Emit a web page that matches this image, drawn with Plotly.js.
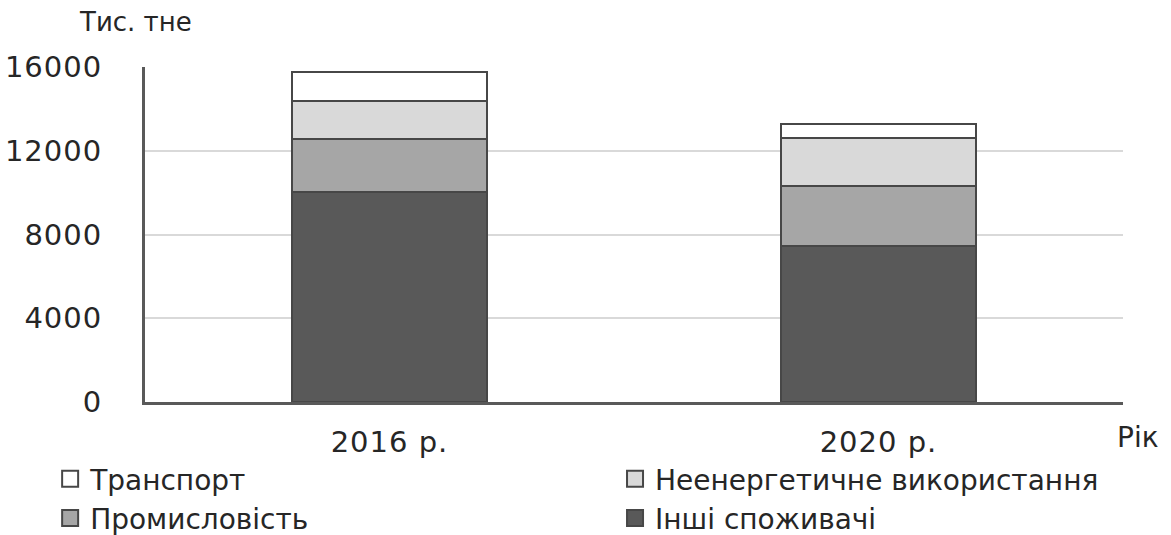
<!DOCTYPE html>
<html>
<head>
<meta charset="utf-8">
<script src="https://cdn.plot.ly/plotly-3.0.1.min.js"></script>
<style>
html,body{margin:0;padding:0;background:#fff;}
#chart{width:1171px;height:535px;}
#chart .xtick text, #chart .ytick text {letter-spacing: 1px;}
</style>
</head>
<body>
<div id="chart"></div>
<script>
const years = ['2016 р.', '2020 р.'];
const inshi = [10040, 7450];
const promyslovist = [2510, 2850];
const neenerg = [1840, 2290];
const transport = [1360, 680];
const seriesNames = ['Інші споживачі', 'Промисловість', 'Неенергетичне використання', 'Транспорт'];
const seriesColors = ['#595959', '#a6a6a6', '#d9d9d9', '#ffffff'];
const seriesLegend = ['legend2', 'legend', 'legend2', 'legend'];
const seriesValues = [inshi, promyslovist, neenerg, transport];

const FONT = 'DejaVu Sans, sans-serif';
const TXT = '#262626';
const OUTLINE = '#474747';

// stacked bars (drawn from the data arrays)
const traces = seriesValues.map((v, i) => ({
  type: 'bar',
  x: years,
  y: v,
  name: seriesNames[i],
  showlegend: false,
  marker: {color: seriesColors[i], line: {color: OUTLINE, width: 2}},
  hoverinfo: 'skip'
}));

// legend-only entries (larger square swatches), top series first
[3, 2, 1, 0].forEach(i => {
  traces.push({
    type: 'scatter', mode: 'markers',
    x: [years[0]], y: [null],
    name: seriesNames[i],
    legend: seriesLegend[i],
    showlegend: true,
    marker: {symbol: 'square', size: 18, color: seriesColors[i], line: {color: OUTLINE, width: 2}},
    hoverinfo: 'skip'
  });
});

const legendCommon = {
  orientation: 'v', traceorder: 'normal',
  xanchor: 'left', yanchor: 'top', y: -0.155,
  font: {family: FONT, size: 28, color: TXT},
  itemsizing: 'trace',
  bgcolor: 'rgba(0,0,0,0)', tracegroupgap: 0
};

const layout = {
  width: 1171, height: 535,
  margin: {l: 145, r: 48, t: 67, b: 133, autoexpand: false},
  paper_bgcolor: '#ffffff', plot_bgcolor: '#ffffff',
  barmode: 'stack',
  bargap: 0.6,
  font: {family: FONT, size: 29, color: TXT},
  xaxis: {
    showline: true, linecolor: '#595959', linewidth: 3,
    ticks: '', tickfont: {family: FONT, size: 29, color: TXT},
    ticklabelstandoff: 12,
    fixedrange: true
  },
  yaxis: {
    range: [0, 16000], dtick: 4000, tick0: 0, tickformat: 'd',
    showline: true, linecolor: '#595959', linewidth: 3,
    showgrid: true, gridcolor: '#d9d9d9', gridwidth: 2,
    zeroline: false, ticks: '',
    tickfont: {family: FONT, size: 29, color: TXT},
    ticklabelstandoff: 34,
    fixedrange: true
  },
  showlegend: true,
  legend: Object.assign({}, legendCommon, {x: -0.097}),
  legend2: Object.assign({}, legendCommon, {x: 0.4806}),
  annotations: [
    {text: 'Тис. тне', xref: 'paper', yref: 'paper', x: -0.0695, y: 1.134, xanchor: 'left', yanchor: 'middle', showarrow: false, font: {family: FONT, size: 26, color: TXT}},
    {text: 'Рік', xref: 'paper', yref: 'paper', x: 1.0153, y: -0.107, xanchor: 'center', yanchor: 'middle', showarrow: false, font: {family: FONT, size: 28, color: TXT}}
  ]
};

Plotly.newPlot('chart', traces, layout, {staticPlot: true, displayModeBar: false});
</script>
</body>
</html>
